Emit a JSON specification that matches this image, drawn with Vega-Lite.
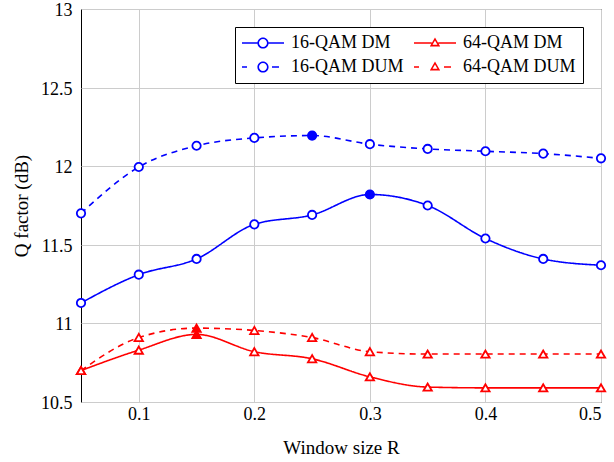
{
  "$schema": "https://vega.github.io/schema/vega-lite/v6.json",
  "width": 520,
  "height": 393,
  "autosize": {"type": "none"},
  "padding": {"left": 81, "top": 9, "right": 13, "bottom": 60},
  "background": "white",
  "config": {
    "font": "Liberation Serif",
    "view": {"stroke": "black", "strokeWidth": 1},
    "axis": {"labelFont": "Liberation Serif", "titleFont": "Liberation Serif", "labelFontSize": 18, "titleFontSize": 19, "titleFontWeight": "normal", "labelColor": "black", "titleColor": "black", "gridColor": "#cccccc", "gridWidth": 1, "domain": false, "tickSize": 0},
    "legend": {"labelFont": "Liberation Serif", "labelFontSize": 18, "labelColor": "black"}
  },
  "data": {"values": [
    {"R": 0.05, "Q": 11.13, "series": "16-QAM DM", "opt": false},
    {"R": 0.10, "Q": 11.31, "series": "16-QAM DM", "opt": false},
    {"R": 0.15, "Q": 11.41, "series": "16-QAM DM", "opt": false},
    {"R": 0.20, "Q": 11.63, "series": "16-QAM DM", "opt": false},
    {"R": 0.25, "Q": 11.69, "series": "16-QAM DM", "opt": false},
    {"R": 0.30, "Q": 11.82, "series": "16-QAM DM", "opt": true},
    {"R": 0.35, "Q": 11.75, "series": "16-QAM DM", "opt": false},
    {"R": 0.40, "Q": 11.54, "series": "16-QAM DM", "opt": false},
    {"R": 0.45, "Q": 11.41, "series": "16-QAM DM", "opt": false},
    {"R": 0.50, "Q": 11.37, "series": "16-QAM DM", "opt": false},
    {"R": 0.05, "Q": 11.70, "series": "16-QAM DUM", "opt": false},
    {"R": 0.10, "Q": 11.995, "series": "16-QAM DUM", "opt": false},
    {"R": 0.15, "Q": 12.13, "series": "16-QAM DUM", "opt": false},
    {"R": 0.20, "Q": 12.18, "series": "16-QAM DUM", "opt": false},
    {"R": 0.25, "Q": 12.195, "series": "16-QAM DUM", "opt": true},
    {"R": 0.30, "Q": 12.14, "series": "16-QAM DUM", "opt": false},
    {"R": 0.35, "Q": 12.11, "series": "16-QAM DUM", "opt": false},
    {"R": 0.40, "Q": 12.095, "series": "16-QAM DUM", "opt": false},
    {"R": 0.45, "Q": 12.08, "series": "16-QAM DUM", "opt": false},
    {"R": 0.50, "Q": 12.05, "series": "16-QAM DUM", "opt": false},
    {"R": 0.05, "Q": 10.70, "series": "64-QAM DM", "opt": false},
    {"R": 0.10, "Q": 10.83, "series": "64-QAM DM", "opt": false},
    {"R": 0.15, "Q": 10.93, "series": "64-QAM DM", "opt": true},
    {"R": 0.20, "Q": 10.82, "series": "64-QAM DM", "opt": false},
    {"R": 0.25, "Q": 10.775, "series": "64-QAM DM", "opt": false},
    {"R": 0.30, "Q": 10.66, "series": "64-QAM DM", "opt": false},
    {"R": 0.35, "Q": 10.595, "series": "64-QAM DM", "opt": false},
    {"R": 0.40, "Q": 10.59, "series": "64-QAM DM", "opt": false},
    {"R": 0.45, "Q": 10.59, "series": "64-QAM DM", "opt": false},
    {"R": 0.50, "Q": 10.59, "series": "64-QAM DM", "opt": false},
    {"R": 0.05, "Q": 10.70, "series": "64-QAM DUM", "opt": false},
    {"R": 0.10, "Q": 10.91, "series": "64-QAM DUM", "opt": false},
    {"R": 0.15, "Q": 10.97, "series": "64-QAM DUM", "opt": true},
    {"R": 0.20, "Q": 10.955, "series": "64-QAM DUM", "opt": false},
    {"R": 0.25, "Q": 10.91, "series": "64-QAM DUM", "opt": false},
    {"R": 0.30, "Q": 10.82, "series": "64-QAM DUM", "opt": false},
    {"R": 0.35, "Q": 10.805, "series": "64-QAM DUM", "opt": false},
    {"R": 0.40, "Q": 10.805, "series": "64-QAM DUM", "opt": false},
    {"R": 0.45, "Q": 10.805, "series": "64-QAM DUM", "opt": false},
    {"R": 0.50, "Q": 10.805, "series": "64-QAM DUM", "opt": false}
  ]},
  "encoding": {
    "x": {"field": "R", "type": "quantitative", "title": "Window size R",
      "scale": {"domain": [0.05, 0.5], "nice": false, "zero": false},
      "axis": {"values": [0.1, 0.2, 0.3, 0.4, 0.5], "format": ".1f", "labelPadding": 3, "titlePadding": 15}},
    "y": {"field": "Q", "type": "quantitative", "title": "Q factor (dB)",
      "scale": {"domain": [10.5, 13], "nice": false, "zero": false},
      "axis": {"values": [10.5, 11, 11.5, 12, 12.5, 13], "format": "~g", "labelPadding": 9, "titlePadding": 9, "labelOffset": 1.5}},
    "color": {"field": "series", "type": "nominal",
      "scale": {"domain": ["16-QAM DM", "16-QAM DUM", "64-QAM DM", "64-QAM DUM"], "range": ["#0000ff", "#0000ff", "#ff0000", "#ff0000"]},
      "legend": null}
  },
  "layer": [
    {
      "mark": {"type": "line", "interpolate": "monotone", "strokeWidth": 1.6},
      "encoding": {
        "color": {"field": "series", "type": "nominal",
          "legend": {"title": null, "orient": "top-right", "offsetX": 16, "offsetY": 13, "direction": "horizontal", "columns": 2, "columnPadding": 10, "rowPadding": 6, "strokeColor": "black", "fillColor": "white", "padding": 7, "symbolSize": 324, "symbolStrokeWidth": 0, "labelOffset": 31, "values": ["16-QAM DM", "64-QAM DM", "16-QAM DUM", "64-QAM DUM"],
            "encode": {"symbols": {"update": {
              "shape": {"signal": "datum.value == '16-QAM DM' ? 'M-1,-0.089H0.711V0.089H-1ZM1.955,-0.089H3.667V0.089H1.955ZM1.955,0A0.622,0.622 0 1,1 0.711,0A0.622,0.622 0 1,1 1.955,0ZM1.777,0A0.444,0.444 0 1,0 0.889,0A0.444,0.444 0 1,0 1.777,0Z' : datum.value == '16-QAM DUM' ? 'M-1,-0.089H-0.444V0.089H-1ZM2.333,-0.089H3.111V0.089H2.333ZM1.955,0A0.622,0.622 0 1,1 0.711,0A0.622,0.622 0 1,1 1.955,0ZM1.777,0A0.444,0.444 0 1,0 0.889,0A0.444,0.444 0 1,0 1.777,0Z' : datum.value == '64-QAM DM' ? 'M-1,-0.089H0.973V0.089H-1ZM1.693,-0.089H3.667V0.089H1.693ZM1.333,-0.622L1.911,0.378L0.756,0.378ZM1.333,-0.267L1.063,0.2L1.603,0.2Z' : 'M-1,-0.089H-0.444V0.089H-1ZM2.333,-0.089H3.111V0.089H2.333ZM1.333,-0.622L1.911,0.378L0.756,0.378ZM1.333,-0.267L1.063,0.2L1.603,0.2Z'"}
            }}}}},
        "strokeDash": {"field": "series", "type": "nominal",
          "scale": {"domain": ["16-QAM DM", "16-QAM DUM", "64-QAM DM", "64-QAM DUM"], "range": [[1, 0], [6, 5], [1, 0], [6, 5]]},
          "legend": null}
      }
    },
    {
      "transform": [{"filter": "indexof(datum.series, '16') == 0"}],
      "mark": {"type": "point", "shape": "circle", "filled": false, "fill": "white", "fillOpacity": 1, "size": 70, "strokeWidth": 1.8, "opacity": 1}
    },
    {
      "transform": [{"filter": "indexof(datum.series, '64') == 0"}],
      "mark": {"type": "point", "shape": "triangle-up", "filled": false, "fill": "white", "fillOpacity": 1, "size": 70, "strokeWidth": 1.8, "opacity": 1}
    },
    {
      "transform": [{"filter": "datum.opt && indexof(datum.series, '16') == 0"}],
      "mark": {"type": "point", "shape": "circle", "filled": true, "size": 80, "opacity": 1}
    },
    {
      "transform": [{"filter": "datum.opt && indexof(datum.series, '64') == 0"}],
      "mark": {"type": "point", "shape": "triangle-up", "filled": true, "size": 80, "opacity": 1}
    }
  ]
}
